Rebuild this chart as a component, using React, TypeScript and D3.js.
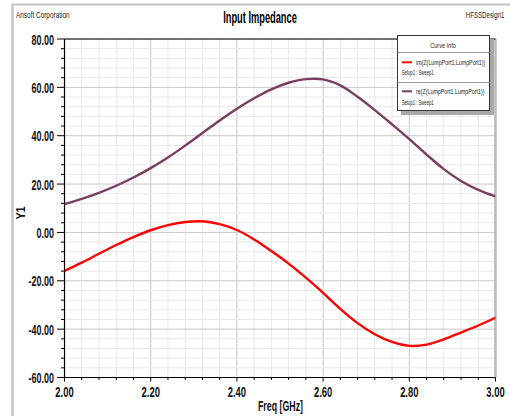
import React from "react";
import * as d3 from "d3";

const freqs = [2.0, 2.04, 2.08, 2.12, 2.16, 2.2, 2.24, 2.28, 2.32, 2.36, 2.4, 2.44, 2.48, 2.52, 2.56, 2.6, 2.64, 2.68, 2.72, 2.76, 2.8, 2.84, 2.88, 2.92, 2.96, 3.0];
const imZ = [-15.9, -12.5, -8.8, -5.2, -1.9, 0.9, 3.0, 4.3, 4.6, 3.4, 1.0, -2.9, -7.7, -12.9, -18.7, -25.0, -31.6, -37.5, -42.1, -45.3, -46.9, -46.4, -44.2, -41.4, -38.5, -35.3];
const reZ = [11.7, 13.9, 16.4, 19.3, 22.7, 26.6, 31.0, 35.9, 41.1, 46.3, 51.2, 55.5, 59.2, 61.9, 63.4, 63.3, 60.8, 56.1, 50.6, 44.7, 38.6, 32.2, 26.2, 21.3, 17.6, 14.9];
const xTicks = [2.0, 2.2, 2.4, 2.6, 2.8, 3.0];
const yTicks = [-60, -40, -20, 0, 20, 40, 60, 80];
const seriesNames = ["im(Z(LumpPort1,LumpPort1))", "re(Z(LumpPort1,LumpPort1))"];
const seriesColors = ["#ff0000", "#7b3c62"];

const W = 510, H = 416;
const L = 64.5, R = 495.5, T = 39, B = 377.5;
const FONT = "'Liberation Sans', Arial, sans-serif";

export default function App() {
  const x = d3.scaleLinear().domain([2, 3]).range([L, R]);
  const y = d3.scaleLinear().domain([-60, 80]).range([B, T]);
  const line = d3.line<number>().x((_, i) => x(freqs[i])).y((v) => y(v)).curve(d3.curveCatmullRom.alpha(0.5));
  const minorX = d3.range(0, 26).map((i) => 2 + i * 0.04);
  const minorY = d3.range(0, 36).map((i) => -60 + i * 4);
  const series = [imZ, reZ];

  return (
    <svg width={W} height={H} style={{ position: "absolute", left: 0, top: 0, background: "#fff" }}>
      {/* outer frame */}
      <line x1={12} y1={4.5} x2={510} y2={4.5} stroke="#c4c4c4" strokeWidth={2} />
      <line x1={12.5} y1={4} x2={12.5} y2={416} stroke="#c4c4c4" strokeWidth={2.5} />
      <text transform={`translate(16,18.3) scale(0.715,1)`} fontFamily={FONT} fontSize={9} fill="#222">Ansoft Corporation</text>
      <text transform={`translate(504.5,18.3) scale(0.68,1)`} textAnchor="end" fontFamily={FONT} fontSize={9} fill="#222">HFSSDesign1</text>
      <text transform={`translate(260,22.7) scale(0.57,1)`} textAnchor="middle" fontFamily={FONT} fontSize={16.3} fontWeight="bold" fill="#000">Input Impedance</text>

      {/* grid */}
      {minorX.map((v, i) => (
        <line key={"gx" + i} x1={x(v)} x2={x(v)} y1={T} y2={B} stroke={i % 5 === 0 ? "#c8c8c8" : "#e8e8e8"} strokeWidth={1} />
      ))}
      {minorY.map((v, i) => (
        <line key={"gy" + i} x1={L} x2={R} y1={y(v)} y2={y(v)} stroke={i % 5 === 0 ? "#c8c8c8" : "#e8e8e8"} strokeWidth={1} />
      ))}

      {/* axes frame */}
      <line x1={R} x2={R} y1={T} y2={B} stroke="#b8b8b8" strokeWidth={2.5} />
      <line x1={L} x2={R} y1={T} y2={T} stroke="#000" strokeWidth={1.2} />
      <line x1={L} x2={L} y1={T} y2={B} stroke="#000" strokeWidth={1.2} />
      <line x1={L} x2={R} y1={B} y2={B} stroke="#000" strokeWidth={1.2} />

      {minorY.map((v, i) => (
        <line key={"ty" + i} x1={i % 5 === 0 ? L - 7.5 : L - 3.5} x2={L} y1={y(v)} y2={y(v)} stroke="#000" strokeWidth={1} />
      ))}
      {minorX.map((v, i) => (
        <line key={"tx" + i} x1={x(v)} x2={x(v)} y1={B} y2={B + (i % 5 === 0 ? 4 : 2.5)} stroke="#000" strokeWidth={1} />
      ))}
      {yTicks.map((v) => (
        <text key={"yl" + v} transform={`translate(54,${y(v) + 5.5}) scale(0.6,1)`} textAnchor="end" fontFamily={FONT} fontSize={15} fontWeight="bold" fill="#111">
          {d3.format(".2f")(v).replace("−", "-")}
        </text>
      ))}
      {xTicks.map((v) => (
        <text key={"xl" + v} transform={`translate(${x(v)},397) scale(0.65,1)`} textAnchor="middle" fontFamily={FONT} fontSize={14.5} fontWeight="bold" fill="#111">
          {d3.format(".2f")(v)}
        </text>
      ))}
      <text transform="translate(280.5,410.5) scale(0.63,1)" textAnchor="middle" fontFamily={FONT} fontSize={14} fontWeight="bold" fill="#111">Freq [GHz]</text>
      <text transform="translate(25,213) rotate(-90) scale(0.9,1)" textAnchor="middle" fontFamily={FONT} fontSize={12} fontWeight="bold" fill="#111">Y1</text>

      {/* curves */}
      <defs>
        <clipPath id="plotclip">
          <rect x={L} y={T} width={R - L} height={B - T} />
        </clipPath>
      </defs>
      <g clipPath="url(#plotclip)">
        {series.map((s, i) => (
          <path key={"s" + i} d={line(s) || ""} fill="none" stroke={seriesColors[i]} strokeWidth={2.4} />
        ))}
      </g>

      {/* legend */}
      <rect x={401} y={39} width={93} height={76} fill="#a8a8a8" />
      <rect x={397.5} y={35.5} width={92} height={75} fill="#fff" stroke="#333" strokeWidth={1} />
      <text transform="translate(443,47.5)" textAnchor="middle" fontFamily={FONT} fontSize={7} textLength={25.7} lengthAdjust="spacingAndGlyphs" fill="#222">Curve Info</text>
      <line x1={397.5} x2={489.5} y1={52.5} y2={52.5} stroke="#999" strokeWidth={1} />
      <line x1={397.5} x2={489.5} y1={82.5} y2={82.5} stroke="#999" strokeWidth={1} />
      {seriesNames.map((n, i) => (
        <g key={"lg" + i}>
          <line x1={402} x2={412} y1={62.3 + i * 29} y2={62.3 + i * 29} stroke={seriesColors[i]} strokeWidth={2} />
          <text transform={`translate(416,${65 + i * 29}) scale(0.76,1)`} fontFamily={FONT} fontSize={7} fill="#222">{n}</text>
          <text transform={`translate(401.7,${75 + i * 30}) scale(0.6,1)`} fontFamily={FONT} fontSize={7} fill="#222">Setup1 : Sweep1</text>
        </g>
      ))}
    </svg>
  );
}
